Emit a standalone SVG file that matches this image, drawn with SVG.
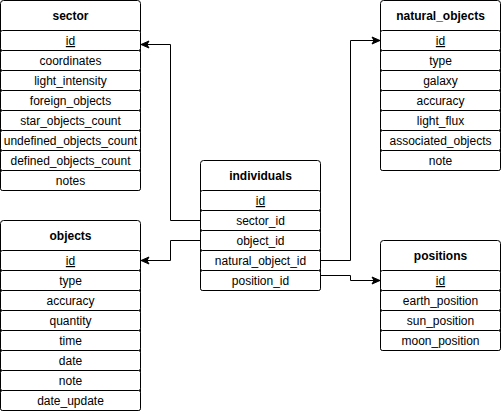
<svg xmlns="http://www.w3.org/2000/svg" width="501" height="411" viewBox="0 0 501 411">
<style>
.tbl{fill:#fff;stroke:#000;stroke-width:1}
.row{fill:#fff;stroke:#000;stroke-width:1}
.hd{font-family:"Liberation Sans",Arial,sans-serif;font-size:12px;font-weight:bold;fill:#000;text-anchor:middle}
.tx{font-family:"Liberation Sans",Arial,sans-serif;font-size:12px;fill:#000;text-anchor:middle}
.u{text-decoration:underline}
.edge{fill:none;stroke:#000;stroke-width:1}
</style>
<defs>
<marker id="arr" markerUnits="userSpaceOnUse" markerWidth="10" markerHeight="10" viewBox="0 0 10 10" refX="9" refY="5" orient="auto">
<path d="M1,1.5 L9,5 L1,8.5 L3,5 z" fill="#000" stroke="#000" stroke-width="1"/>
</marker>
</defs>
<g id="connectors">
<path class="edge" d="M200.5 220.5 H170.5 V44.5 H141" marker-end="url(#arr)"/>
<path class="edge" d="M200.5 240.5 H170.5 V260.5 H141" marker-end="url(#arr)"/>
<path class="edge" d="M320.5 260.5 H350.5 V40.5 H380" marker-end="url(#arr)"/>
<path class="edge" d="M320.5 275.5 H350.5 V280.5 H380" marker-end="url(#arr)"/>
</g>
<g id="sector">
<rect class="tbl" x="0.5" y="0.5" width="140" height="190" rx="3"/>
<text class="hd" x="70.5" y="20">sector</text>
<rect class="row" x="0.5" y="30.5" width="140" height="20" rx="2"/>
<text class="tx u" x="70.5" y="45">id</text>
<rect class="row" x="0.5" y="50.5" width="140" height="20" rx="2"/>
<text class="tx" x="70.5" y="65">coordinates</text>
<rect class="row" x="0.5" y="70.5" width="140" height="20" rx="2"/>
<text class="tx" x="70.5" y="85">light_intensity</text>
<rect class="row" x="0.5" y="90.5" width="140" height="20" rx="2"/>
<text class="tx" x="70.5" y="105">foreign_objects</text>
<rect class="row" x="0.5" y="110.5" width="140" height="20" rx="2"/>
<text class="tx" x="70.5" y="125">star_objects_count</text>
<rect class="row" x="0.5" y="130.5" width="140" height="20" rx="2"/>
<text class="tx" x="70.5" y="145">undefined_objects_count</text>
<rect class="row" x="0.5" y="150.5" width="140" height="20" rx="2"/>
<text class="tx" x="70.5" y="165">defined_objects_count</text>
<rect class="row" x="0.5" y="170.5" width="140" height="20" rx="2"/>
<text class="tx" x="70.5" y="185">notes</text>
</g>
<g id="objects">
<rect class="tbl" x="0.5" y="220.5" width="140" height="190" rx="3"/>
<text class="hd" x="70.5" y="240">objects</text>
<rect class="row" x="0.5" y="250.5" width="140" height="20" rx="2"/>
<text class="tx u" x="70.5" y="265">id</text>
<rect class="row" x="0.5" y="270.5" width="140" height="20" rx="2"/>
<text class="tx" x="70.5" y="285">type</text>
<rect class="row" x="0.5" y="290.5" width="140" height="20" rx="2"/>
<text class="tx" x="70.5" y="305">accuracy</text>
<rect class="row" x="0.5" y="310.5" width="140" height="20" rx="2"/>
<text class="tx" x="70.5" y="325">quantity</text>
<rect class="row" x="0.5" y="330.5" width="140" height="20" rx="2"/>
<text class="tx" x="70.5" y="345">time</text>
<rect class="row" x="0.5" y="350.5" width="140" height="20" rx="2"/>
<text class="tx" x="70.5" y="365">date</text>
<rect class="row" x="0.5" y="370.5" width="140" height="20" rx="2"/>
<text class="tx" x="70.5" y="385">note</text>
<rect class="row" x="0.5" y="390.5" width="140" height="20" rx="2"/>
<text class="tx" x="70.5" y="405">date_update</text>
</g>
<g id="individuals">
<rect class="tbl" x="200.5" y="160.5" width="120" height="130" rx="3"/>
<text class="hd" x="260.5" y="180">individuals</text>
<rect class="row" x="200.5" y="190.5" width="120" height="20" rx="2"/>
<text class="tx u" x="260.5" y="205">id</text>
<rect class="row" x="200.5" y="210.5" width="120" height="20" rx="2"/>
<text class="tx" x="260.5" y="225">sector_id</text>
<rect class="row" x="200.5" y="230.5" width="120" height="20" rx="2"/>
<text class="tx" x="260.5" y="245">object_id</text>
<rect class="row" x="200.5" y="250.5" width="120" height="20" rx="2"/>
<text class="tx" x="260.5" y="265">natural_object_id</text>
<rect class="row" x="200.5" y="270.5" width="120" height="20" rx="2"/>
<text class="tx" x="260.5" y="285">position_id</text>
</g>
<g id="natural_objects">
<rect class="tbl" x="380.5" y="0.5" width="120" height="170" rx="3"/>
<text class="hd" x="440.5" y="20">natural_objects</text>
<rect class="row" x="380.5" y="30.5" width="120" height="20" rx="2"/>
<text class="tx u" x="440.5" y="45">id</text>
<rect class="row" x="380.5" y="50.5" width="120" height="20" rx="2"/>
<text class="tx" x="440.5" y="65">type</text>
<rect class="row" x="380.5" y="70.5" width="120" height="20" rx="2"/>
<text class="tx" x="440.5" y="85">galaxy</text>
<rect class="row" x="380.5" y="90.5" width="120" height="20" rx="2"/>
<text class="tx" x="440.5" y="105">accuracy</text>
<rect class="row" x="380.5" y="110.5" width="120" height="20" rx="2"/>
<text class="tx" x="440.5" y="125">light_flux</text>
<rect class="row" x="380.5" y="130.5" width="120" height="20" rx="2"/>
<text class="tx" x="440.5" y="145">associated_objects</text>
<rect class="row" x="380.5" y="150.5" width="120" height="20" rx="2"/>
<text class="tx" x="440.5" y="165">note</text>
</g>
<g id="positions">
<rect class="tbl" x="380.5" y="240.5" width="120" height="110" rx="3"/>
<text class="hd" x="440.5" y="260">positions</text>
<rect class="row" x="380.5" y="270.5" width="120" height="20" rx="2"/>
<text class="tx u" x="440.5" y="285">id</text>
<rect class="row" x="380.5" y="290.5" width="120" height="20" rx="2"/>
<text class="tx" x="440.5" y="305">earth_position</text>
<rect class="row" x="380.5" y="310.5" width="120" height="20" rx="2"/>
<text class="tx" x="440.5" y="325">sun_position</text>
<rect class="row" x="380.5" y="330.5" width="120" height="20" rx="2"/>
<text class="tx" x="440.5" y="345">moon_position</text>
</g>
</svg>
